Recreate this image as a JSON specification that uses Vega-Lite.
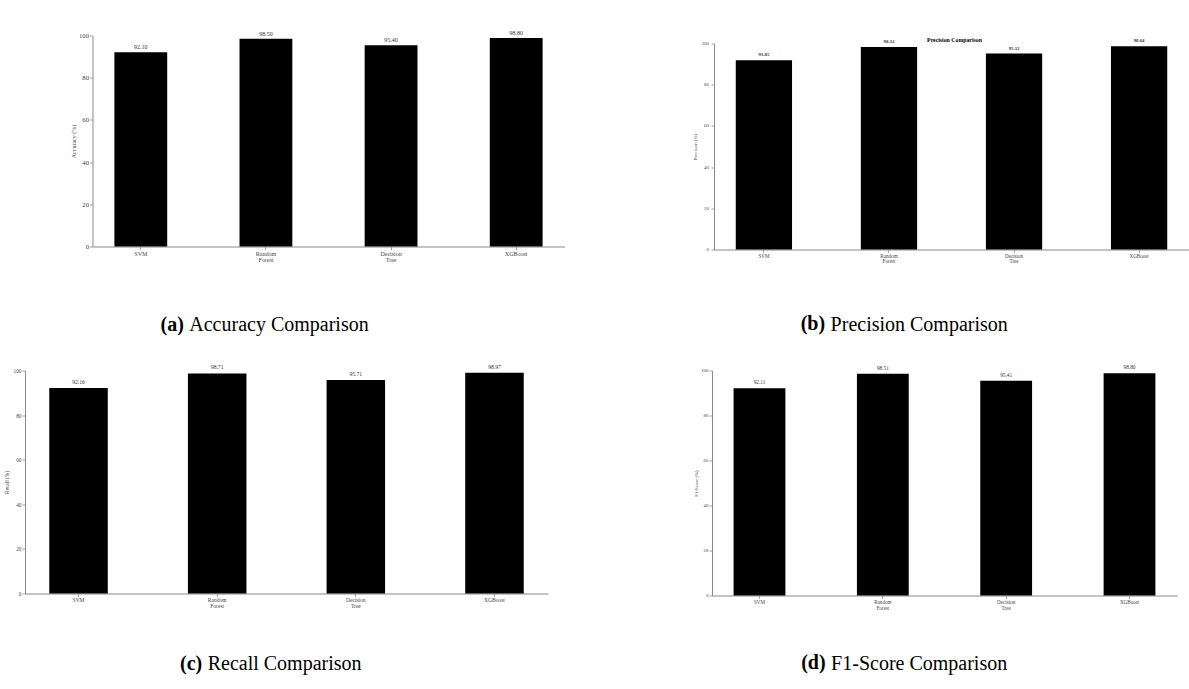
{
  "$schema": "https://vega.github.io/schema/vega-lite/v6.json",
  "padding": {"left": 4, "top": 29.5, "right": 0, "bottom": 0},
  "background": "#ffffff",
  "datasets": {
    "scores": [
      {"metric": "Accuracy", "model": "SVM", "value": 92.10},
      {"metric": "Accuracy", "model": "Random Forest", "value": 98.50},
      {"metric": "Accuracy", "model": "Decision Tree", "value": 95.40},
      {"metric": "Accuracy", "model": "XGBoost", "value": 98.80},
      {"metric": "Precision", "model": "SVM", "value": 91.85},
      {"metric": "Precision", "model": "Random Forest", "value": 98.32},
      {"metric": "Precision", "model": "Decision Tree", "value": 95.12},
      {"metric": "Precision", "model": "XGBoost", "value": 98.64},
      {"metric": "Recall", "model": "SVM", "value": 92.16},
      {"metric": "Recall", "model": "Random Forest", "value": 98.71},
      {"metric": "Recall", "model": "Decision Tree", "value": 95.71},
      {"metric": "Recall", "model": "XGBoost", "value": 98.97},
      {"metric": "F1-Score", "model": "SVM", "value": 92.11},
      {"metric": "F1-Score", "model": "Random Forest", "value": 98.51},
      {"metric": "F1-Score", "model": "Decision Tree", "value": 95.41},
      {"metric": "F1-Score", "model": "XGBoost", "value": 98.80}
    ]
  },
  "columns": 2,
  "align": "all",
  "bounds": "flush",
  "spacing": {"row": 110, "column": 147},
  "concat": [
    {
      "width": 539.5,
      "height": 211,
      "data": {"name": "scores"},
      "transform": [{"filter": "datum.metric === 'Accuracy'"}],
      "title": {"text": "(a)", "orient": "bottom", "frame": "group", "anchor": "start", "dx": 135.5, "offset": -19.5},
      "encoding": {
        "x": {
          "field": "model", "type": "nominal",
          "sort": ["SVM", "Random Forest", "Decision Tree", "XGBoost"],
          "scale": {"range": [67.5, 539.5], "paddingInner": 0.578, "paddingOuter": 0.175},
          "axis": {"labelFontSize": 6, "labelLineHeight": 6.4, "labelPadding": 0.5, "title": "Accuracy Comparison", "titleX": 163.8, "titleY": 84}
        },
        "y": {
          "field": "value", "type": "quantitative",
          "scale": {"domain": [0, 100], "nice": false},
          "axis": {"offset": -67.5, "values": [0, 20, 40, 60, 80, 100], "labelFontSize": 6.7, "labelPadding": 1, "title": "Accuracy (%)", "titleFontSize": 6, "titlePadding": 1.5}
        }
      },
      "layer": [
        {"mark": {"type": "bar", "color": "#000000"}},
        {
          "mark": {"type": "text", "baseline": "alphabetic", "dy": -3, "fontSize": 6},
          "encoding": {"text": {"field": "value", "type": "quantitative", "format": ".2f"}}
        }
      ]
    },
    {
      "width": 477,
      "height": 214,
      "data": {"name": "scores"},
      "transform": [{"filter": "datum.metric === 'Precision'"}],
      "title": {"text": "(b)", "orient": "bottom", "frame": "group", "anchor": "start", "dx": 88.7, "offset": -20.5},
      "layer": [
        {
          "mark": {"type": "bar", "color": "#000000"},
          "encoding": {
            "x": {
              "field": "model", "type": "nominal",
              "sort": ["SVM", "Random Forest", "Decision Tree", "XGBoost"],
              "scale": {"range": [2, 477], "paddingInner": 0.55, "paddingOuter": 0.174},
              "axis": {"labelFontSize": 5.1, "labelLineHeight": 5.3, "labelPadding": 0.5, "title": "Precision Comparison", "titleX": 118.1, "titleY": 81}
            },
            "y": {
              "field": "value", "type": "quantitative",
              "scale": {"domain": [0, 100], "nice": false, "range": [214, 8]},
              "axis": {"offset": -2, "values": [0, 20, 40, 60, 80, 100], "labelFontSize": 4.9, "labelPadding": 2.5, "title": "Precision (%)", "titleFontSize": 4.8, "titlePadding": 4}
            }
          }
        },
        {
          "mark": {"type": "text", "baseline": "alphabetic", "dy": -4, "fontSize": 4.8, "fontWeight": "bold"},
          "encoding": {
            "x": {
              "field": "model", "type": "nominal",
              "sort": ["SVM", "Random Forest", "Decision Tree", "XGBoost"],
              "scale": {"range": [2, 477], "paddingInner": 0.55, "paddingOuter": 0.174},
              "axis": {"orient": "top", "domain": false, "ticks": false, "labels": false, "title": "Precision Comparison", "titleFontSize": 5.8, "titleFontWeight": "bold", "titleX": 242, "titleY": 5.5, "titleAlign": "center"}
            },
            "y": {"field": "value", "type": "quantitative"},
            "text": {"field": "value", "type": "quantitative", "format": ".2f"}
          }
        }
      ],
      "resolve": {"axis": {"x": "independent"}}
    },
    {
      "width": 523,
      "height": 223,
      "data": {"name": "scores"},
      "transform": [{"filter": "datum.metric === 'Recall'"}],
      "title": {"text": "(c)", "orient": "bottom", "frame": "group", "anchor": "start", "dx": 155, "offset": -19.5},
      "encoding": {
        "x": {
          "field": "model", "type": "nominal",
          "sort": ["SVM", "Random Forest", "Decision Tree", "XGBoost"],
          "scale": {"paddingInner": 0.578, "paddingOuter": 0.175},
          "axis": {"labelFontSize": 5.5, "labelLineHeight": 6, "labelPadding": 0.5, "title": "Recall Comparison", "titleX": 182.2, "titleY": 76}
        },
        "y": {
          "field": "value", "type": "quantitative",
          "scale": {"domain": [0, 100], "nice": false},
          "axis": {"values": [0, 20, 40, 60, 80, 100], "labelFontSize": 5.3, "labelPadding": 1, "title": "Recall (%)", "titleFontSize": 5.3, "titlePadding": 3.5}
        }
      },
      "layer": [
        {"mark": {"type": "bar", "color": "#000000"}},
        {
          "mark": {"type": "text", "baseline": "alphabetic", "dy": -4, "fontSize": 5.6},
          "encoding": {"text": {"field": "value", "type": "quantitative", "format": ".2f"}}
        }
      ]
    },
    {
      "width": 465,
      "height": 225,
      "data": {"name": "scores"},
      "transform": [{"filter": "datum.metric === 'F1-Score'"}],
      "title": {"text": "(d)", "orient": "bottom", "frame": "group", "anchor": "start", "dx": 89.2, "offset": -20.5},
      "encoding": {
        "x": {
          "field": "model", "type": "nominal",
          "sort": ["SVM", "Random Forest", "Decision Tree", "XGBoost"],
          "scale": {"paddingInner": 0.58, "paddingOuter": 0.175},
          "axis": {"labelFontSize": 5.1, "labelLineHeight": 6, "labelPadding": 0.5, "title": "F1-Score Comparison", "titleX": 118.6, "titleY": 74}
        },
        "y": {
          "field": "value", "type": "quantitative",
          "scale": {"domain": [0, 100], "nice": false},
          "axis": {"values": [0, 20, 40, 60, 80, 100], "labelFontSize": 4.9, "labelPadding": 1, "title": "F1-Score (%)", "titleFontSize": 4.9, "titlePadding": 2}
        }
      },
      "layer": [
        {"mark": {"type": "bar", "color": "#000000"}},
        {
          "mark": {"type": "text", "baseline": "alphabetic", "dy": -4, "fontSize": 5.3},
          "encoding": {"text": {"field": "value", "type": "quantitative", "format": ".2f"}}
        }
      ]
    }
  ],
  "config": {
    "view": {"stroke": null},
    "font": "Liberation Serif",
    "text": {"font": "Liberation Serif", "color": "#333333"},
    "title": {
      "font": "Liberation Serif", "fontSize": 20, "fontWeight": "bold", "color": "#000000",
      "align": "left", "baseline": "alphabetic"
    },
    "axis": {
      "grid": false,
      "domainColor": "#8a8a8a", "domainWidth": 1,
      "tickColor": "#8a8a8a", "tickSize": 3, "tickWidth": 0.8,
      "labelFont": "Liberation Serif", "labelColor": "#444444",
      "titleFont": "Liberation Serif", "titleColor": "#444444", "titleFontWeight": "normal"
    },
    "axisX": {
      "labelAngle": 0,
      "labelExpr": "split(datum.label, ' ')",
      "labelBaseline": "top",
      "titleFontSize": 20, "titleColor": "#000000", "titleAlign": "left", "titleBaseline": "alphabetic", "titleAngle": 0
    }
  }
}
